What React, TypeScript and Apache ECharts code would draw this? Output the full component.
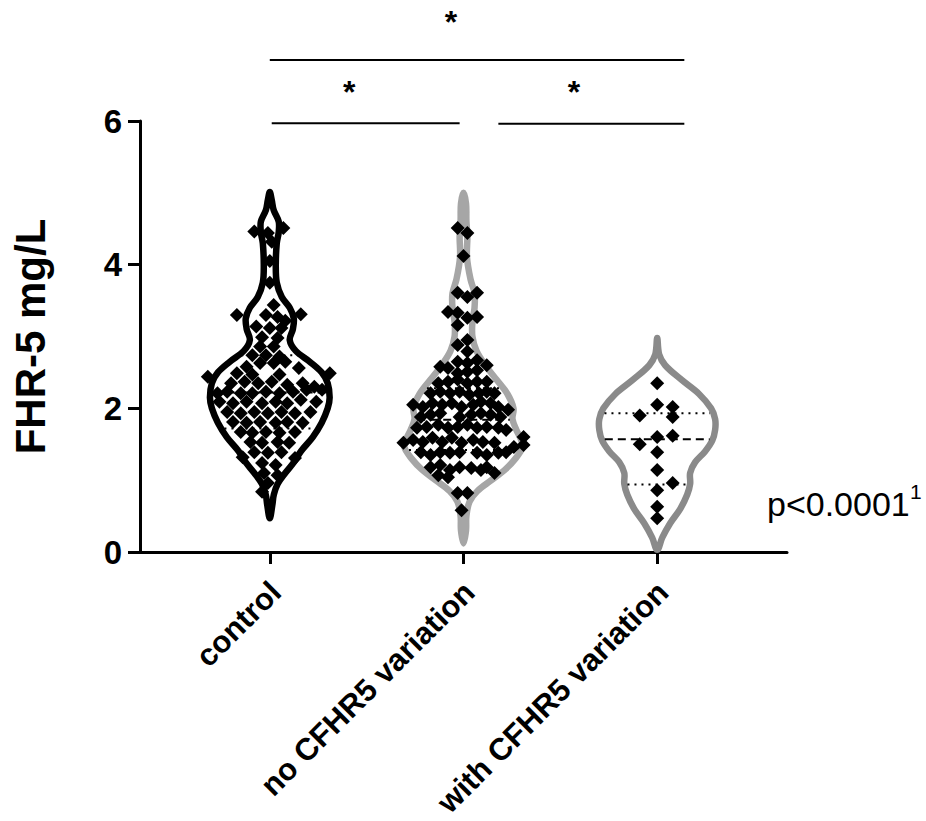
import React, { useEffect, useRef } from "react";
import * as echarts from "echarts";

const FONT = "'Liberation Sans', Arial, Helvetica, sans-serif";

const categories = ["control", "no CFHR5 variation", "with CFHR5 variation"];
const groupCenters = [1, 2, 3];
const labelPositions = [1.03, 2.03, 3.03];
const violinColors = ["#000000", "#a6a6a6", "#8a8a8a"];

// violin outline: [y value, half width in category units]
const controlShape = [
  [5.01, 0], [4.9, 0.01], [4.76, 0.02], [4.6, 0.046], [4.45, 0.046], [4.3, 0.036],
  [4.0, 0.031], [3.75, 0.036], [3.55, 0.062], [3.4, 0.103], [3.25, 0.124], [3.1, 0.119],
  [2.95, 0.103], [2.8, 0.134], [2.65, 0.206], [2.5, 0.268], [2.35, 0.299], [2.15, 0.309],
  [2.0, 0.299], [1.8, 0.268], [1.6, 0.222], [1.4, 0.16], [1.25, 0.125], [1.1, 0.08],
  [0.95, 0.041], [0.8, 0.021], [0.65, 0.013], [0.47, 0],
];
const noVariationShape = [
  [5.0, 0], [4.85, 0.013], [4.6, 0.015], [4.4, 0.02], [4.1, 0.018], [3.8, 0.036],
  [3.6, 0.057], [3.4, 0.057], [3.2, 0.046], [3.0, 0.046], [2.8, 0.067], [2.6, 0.113],
  [2.4, 0.17], [2.2, 0.227], [2.0, 0.258], [1.85, 0.253], [1.7, 0.273], [1.55, 0.299],
  [1.45, 0.304], [1.3, 0.268], [1.15, 0.216], [1.0, 0.144], [0.85, 0.072], [0.7, 0.031],
  [0.5, 0.015], [0.3, 0.013], [0.12, 0],
];
const withVariationShape = [
  [2.98, 0], [2.75, 0.01], [2.6, 0.041], [2.4, 0.124], [2.2, 0.216], [2.0, 0.278],
  [1.85, 0.299], [1.7, 0.299], [1.55, 0.284], [1.4, 0.247], [1.25, 0.196], [1.1, 0.17],
  [0.95, 0.17], [0.8, 0.155], [0.6, 0.119], [0.4, 0.067], [0.2, 0.026], [0.03, 0],
];
const violinShapes = [controlShape, noVariationShape, withVariationShape];

// [q1, median, q3]
const quartiles = [
  [1.72, 2.22, 2.74],
  [1.42, 1.84, 2.28],
  [0.94, 1.57, 1.93],
];

// points: [x jitter in category units, FHR-5 mg/L]
const controlPoints = [
  [-0.08, 4.46], [0.07, 4.51], [-0.01, 4.44], [0.01, 4.32], [0.0, 4.05], [0.0, 3.75],
  [0.02, 3.44], [-0.17, 3.3], [0.16, 3.31], [-0.02, 3.3], [0.04, 3.27], [0.08, 3.22],
  [-0.07, 3.14], [0.0, 3.12], [0.06, 3.12], [-0.04, 2.99], [0.04, 2.98],
  [-0.05, 2.86], [0.02, 2.86], [-0.09, 2.74], [-0.02, 2.74], [0.05, 2.72], [-0.05, 2.63],
  [0.02, 2.63], [0.08, 2.65], [-0.12, 2.58], [0.15, 2.56], [0.31, 2.49], [-0.32, 2.44],
  [-0.17, 2.49], [-0.09, 2.47], [0.05, 2.47], [-0.2, 2.35], [-0.13, 2.37], [-0.06, 2.35],
  [0.01, 2.37], [0.09, 2.33], [0.17, 2.35], [0.23, 2.3], [-0.27, 2.21], [-0.22, 2.23],
  [-0.15, 2.21], [-0.09, 2.21], [-0.02, 2.23], [0.05, 2.21], [0.12, 2.23], [0.19, 2.26],
  [0.27, 2.26], [-0.26, 2.09], [-0.19, 2.07], [-0.12, 2.09], [-0.04, 2.07], [0.03, 2.09],
  [0.09, 2.07], [0.16, 2.12], [0.24, 2.09], [-0.22, 1.95], [-0.15, 1.93], [-0.08, 1.95],
  [-0.01, 1.93], [0.06, 1.95], [0.13, 1.93], [0.21, 1.95], [-0.19, 1.81], [-0.12, 1.8],
  [-0.05, 1.81], [0.03, 1.8], [0.09, 1.81], [0.17, 1.8], [-0.15, 1.67], [-0.09, 1.66],
  [-0.02, 1.67], [0.05, 1.66], [0.13, 1.67], [-0.1, 1.53], [-0.04, 1.52], [0.04, 1.53],
  [0.1, 1.52], [-0.08, 1.39], [-0.01, 1.38], [0.06, 1.39], [-0.14, 1.32], [0.13, 1.31],
  [-0.04, 1.24], [0.03, 1.21], [-0.03, 1.1], [0.04, 1.07], [-0.01, 0.96], [-0.04, 0.84],
];
const noVariationPoints = [
  [-0.03, 4.51], [0.02, 4.44], [0.0, 4.12], [-0.03, 3.61], [0.02, 3.55], [0.07, 3.61],
  [-0.08, 3.34], [-0.03, 3.33], [-0.03, 3.16], [0.02, 3.26], [0.07, 3.27], [-0.03, 2.88],
  [0.02, 2.95], [0.02, 2.79], [-0.12, 2.58], [-0.08, 2.56], [-0.03, 2.65], [0.02, 2.63],
  [0.07, 2.67], [0.12, 2.6], [-0.03, 2.49], [0.02, 2.51], [0.07, 2.53], [-0.13, 2.35],
  [-0.08, 2.37], [-0.03, 2.4], [0.02, 2.35], [0.07, 2.37], [0.12, 2.37], [-0.17, 2.21],
  [-0.12, 2.23], [-0.07, 2.21], [-0.02, 2.23], [0.03, 2.19], [0.08, 2.21], [0.12, 2.23],
  [0.16, 2.21], [-0.26, 2.05], [-0.21, 2.02], [-0.16, 2.07], [-0.11, 2.05], [-0.06, 2.07],
  [-0.01, 2.02], [0.05, 2.05], [0.09, 2.09], [0.14, 2.07], [0.18, 2.02], [0.23, 1.98],
  [-0.22, 1.88], [-0.17, 1.91], [-0.12, 1.93], [-0.02, 1.88], [0.04, 1.91], [0.09, 1.93],
  [0.14, 1.91], [0.19, 1.88], [-0.24, 1.73], [-0.19, 1.74], [-0.13, 1.77], [-0.08, 1.73],
  [-0.03, 1.74], [0.02, 1.77], [0.07, 1.73], [0.12, 1.74], [0.18, 1.73], [0.22, 1.7],
  [-0.31, 1.52], [-0.26, 1.56], [-0.21, 1.53], [-0.16, 1.59], [-0.11, 1.53], [-0.06, 1.59],
  [-0.01, 1.52], [0.05, 1.56], [0.1, 1.53], [0.16, 1.52], [0.26, 1.46], [0.31, 1.6],
  [0.31, 1.49], [-0.22, 1.39], [-0.17, 1.35], [-0.12, 1.39], [-0.07, 1.38], [-0.02, 1.39],
  [0.07, 1.38], [0.12, 1.35], [0.18, 1.38], [0.22, 1.39], [-0.17, 1.18], [-0.12, 1.21],
  [-0.07, 1.14], [-0.02, 1.18], [0.04, 1.17], [0.09, 1.14], [0.12, 1.18], [0.16, 1.1],
  [-0.13, 1.07], [-0.08, 1.04], [-0.03, 0.82], [0.02, 0.82], [-0.01, 0.58],
];
const withVariationPoints = [
  [0, 2.35], [0, 2.05], [0.08, 2.02], [-0.09, 1.9], [0.08, 1.88], [0, 1.6], [0.08, 1.62],
  [-0.09, 1.5], [0, 1.39], [0, 1.14], [0.08, 0.96], [0, 0.86], [0, 0.63], [0, 0.47],
];
const groupPoints = [controlPoints, noVariationPoints, withVariationPoints];

// significance brackets
const bracketFrom = [1.0, 1.01, 2.18];
const bracketTo = [3.14, 1.98, 3.14];
const bracketY = [6.85, 5.97, 5.96];
const starX = [1.935, 1.41, 2.57];
const starY = [7.38, 6.41, 6.41];

const pValueText = "p<0.0001";
const pValueNote = "1";

function widthAt(shape: number[][], y: number) {
  for (let i = 0; i < shape.length - 1; i++) {
    const [ya, wa] = shape[i];
    const [yb, wb] = shape[i + 1];
    if (y <= ya && y >= yb) {
      const t = (ya - y) / (ya - yb);
      return wa + (wb - wa) * t;
    }
  }
  return 0;
}

export default function App() {
  const ref = useRef<HTMLDivElement>(null);

  useEffect(() => {
    if (!ref.current) return;
    const chart = echarts.init(ref.current, undefined, { renderer: "svg" });

    const violinSeries = violinShapes.map((shape, gi) => ({
      type: "custom",
      silent: true,
      z: 2,
      data: [[groupCenters[gi], shape[0][0]]],
      renderItem: (params: any, api: any) => {
        const c = groupCenters[gi];
        const pts: number[][] = [];
        for (let i = 0; i < shape.length; i++) {
          pts.push(api.coord([c + shape[i][1], shape[i][0]]));
        }
        for (let i = shape.length - 2; i >= 1; i--) {
          pts.push(api.coord([c - shape[i][1], shape[i][0]]));
        }
        return {
          type: "polygon",
          shape: { points: pts, smooth: 0.35 },
          style: {
            fill: "none",
            stroke: violinColors[gi],
            lineWidth: 6.5,
            lineJoin: "round",
          },
        };
      },
    }));

    const quartileSeries = {
      type: "custom",
      silent: true,
      z: 3,
      data: quartiles.map((q, gi) => [groupCenters[gi], q[0], q[1], q[2]]),
      renderItem: (params: any, api: any) => {
        const gi = params.dataIndex;
        const c = api.value(0);
        const shape = violinShapes[gi];
        const children: any[] = [];
        [1, 2, 3].forEach((k) => {
          const y = api.value(k);
          const w = widthAt(shape, y);
          const p1 = api.coord([c - w, y]);
          const p2 = api.coord([c + w, y]);
          children.push({
            type: "line",
            shape: { x1: p1[0] + 3, y1: p1[1], x2: p2[0] - 3, y2: p2[1] },
            style: {
              stroke: "#000",
              lineWidth: 2,
              lineDash: k === 2 ? [8, 5] : [2, 5],
            },
          });
        });
        return { type: "group", children };
      },
    };

    const scatterSeries = groupPoints.map((pts, gi) => ({
      type: "scatter",
      silent: true,
      z: 5,
      symbol: "diamond",
      symbolSize: 14,
      itemStyle: { color: "#000", opacity: 1 },
      data: pts.map(([dx, y]) => [groupCenters[gi] + dx, y]),
    }));

    const bracketSeries = {
      type: "custom",
      silent: true,
      clip: false,
      z: 6,
      data: bracketFrom.map((f, i) => [f, bracketTo[i], bracketY[i], starX[i], starY[i]]),
      renderItem: (params: any, api: any) => {
        const p1 = api.coord([api.value(0), api.value(2)]);
        const p2 = api.coord([api.value(1), api.value(2)]);
        const s = api.coord([api.value(3), api.value(4)]);
        return {
          type: "group",
          children: [
            {
              type: "line",
              shape: { x1: p1[0], y1: p1[1], x2: p2[0], y2: p2[1] },
              style: { stroke: "#000", lineWidth: 2 },
            },
            {
              type: "text",
              x: s[0],
              y: s[1],
              style: {
                text: "*",
                fontSize: 32,
                fontWeight: "bold",
                fontFamily: FONT,
                fill: "#000",
                align: "center",
                verticalAlign: "middle",
              },
            },
          ],
        };
      },
    };

    chart.setOption({
      animation: false,
      backgroundColor: "#ffffff",
      grid: {
        left: 140,
        right: 139,
        top: 121,
        bottom: 269,
        containLabel: false,
        outerBoundsMode: "none",
      },
      xAxis: {
        type: "value",
        min: 0.33,
        max: 3.67,
        splitLine: { show: false },
        axisLine: { show: true, onZero: false, lineStyle: { color: "#000", width: 3 } },
        axisTick: {
          show: true,
          customValues: groupCenters,
          length: 12,
          lineStyle: { color: "#000", width: 3 },
        },
        axisLabel: {
          show: true,
          customValues: labelPositions,
          rotate: 45,
          margin: 35,
          fontSize: 31,
          fontWeight: "bold",
          fontFamily: FONT,
          color: "#000",
          formatter: (v: number) => categories[Math.round(v) - 1] ?? "",
        },
      },
      yAxis: {
        type: "value",
        min: 0,
        max: 6,
        interval: 2,
        name: "FHR-5 mg/L",
        nameLocation: "middle",
        nameGap: 89,
        nameTextStyle: {
          fontSize: 42,
          fontWeight: "bold",
          fontFamily: FONT,
          color: "#000",
        },
        splitLine: { show: false },
        axisLine: { show: true, lineStyle: { color: "#000", width: 3 } },
        axisTick: { show: true, length: 12, lineStyle: { color: "#000", width: 3 } },
        axisLabel: {
          margin: 18,
          fontSize: 33,
          fontWeight: "bold",
          fontFamily: FONT,
          color: "#000",
        },
      },
      graphic: [
        {
          type: "text",
          left: 767,
          top: 487,
          style: {
            text: pValueText,
            fontSize: 34,
            fontFamily: FONT,
            fill: "#000",
          },
        },
        {
          type: "text",
          left: 910,
          top: 481,
          style: {
            text: pValueNote,
            fontSize: 21,
            fontFamily: FONT,
            fill: "#000",
          },
        },
      ],
      series: [...violinSeries, quartileSeries, ...scatterSeries, bracketSeries],
    });

    return () => chart.dispose();
  }, []);

  return (
    <div
      ref={ref}
      style={{ position: "fixed", left: 0, top: 0, width: 926, height: 821, background: "#fff" }}
    />
  );
}
